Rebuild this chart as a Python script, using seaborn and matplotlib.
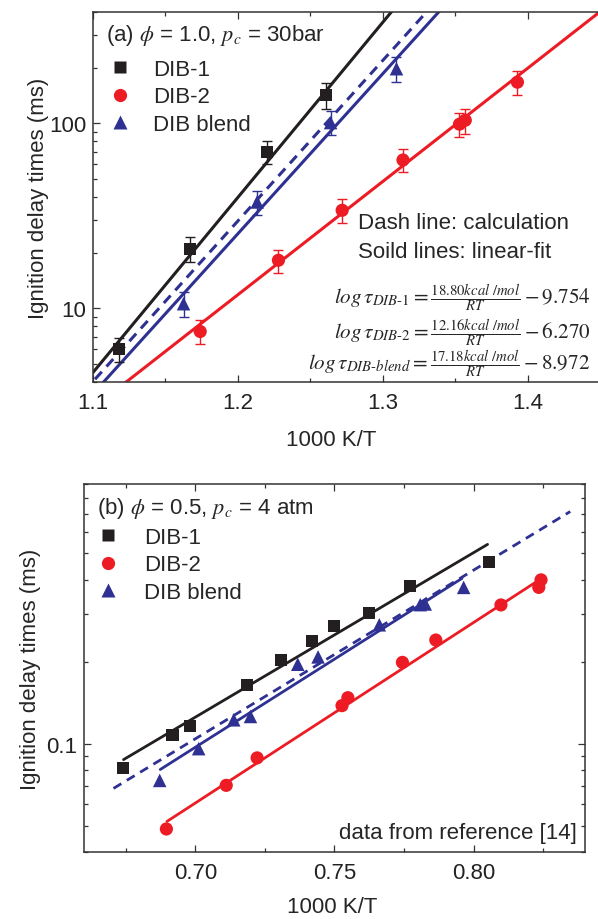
import numpy as np
import matplotlib
matplotlib.use('Agg')
import matplotlib.pyplot as plt
import seaborn as sns
from matplotlib.lines import Line2D
from matplotlib.ticker import MultipleLocator, FixedLocator, NullFormatter, FixedFormatter, LogLocator, FormatStrFormatter

sns.set_theme(style='ticks')
plt.rcParams['font.family'] = ['Liberation Sans', 'DejaVu Sans']
plt.rcParams['mathtext.fontset'] = 'stix'

# ---------------- panel (a): phi = 1.0, pc = 30 bar ----------------
a_dib1_x = [1.118, 1.167, 1.220, 1.261]
a_dib1_y = [6.0, 21.0, 70.3, 142.3]
a_dib1_err = [0.9, 3.2, 10.1, 22.0]
a_dib2_x = [1.174, 1.228, 1.272, 1.314, 1.353, 1.357, 1.393]
a_dib2_y = [7.5, 18.2, 33.9, 63.4, 99.0, 104.0, 167.0]
a_dib2_err = [1.1, 2.6, 5.0, 9.0, 15.0, 16.0, 25.0]
a_blend_x = [1.1625, 1.2133, 1.264, 1.3095]
a_blend_y = [10.6, 37.6, 101.0, 197.5]
a_blend_err = [1.6, 5.6, 15.0, 31.0]
# linear-fit parameters printed on the chart (log tau = E/RT - b)
fit_E = [18.80, 12.16, 17.18]      # kcal/mol
fit_b = [9.754, 6.270, 8.972]
R_CAL = 1.987
a_fit_xrange = [1.09, 1.46]
# calculation (dashed)
a_calc_x = [1.1014, 1.3298]
a_calc_y = [4.14, 396.5]

# ---------------- panel (b): phi = 0.5, pc = 4 atm ----------------
b_dib1_x = [0.674, 0.6918, 0.698, 0.7184, 0.7309, 0.7418, 0.7498, 0.7623, 0.7773, 0.8054]
b_dib1_y = [0.0811, 0.1076, 0.1157, 0.1637, 0.2032, 0.239, 0.271, 0.3017, 0.380, 0.4654]
b_dib2_x = [0.6896, 0.7111, 0.7222, 0.7527, 0.7548, 0.7744, 0.7864, 0.8098, 0.8234, 0.8242]
b_dib2_y = [0.0486, 0.0703, 0.0887, 0.138, 0.1476, 0.199, 0.2404, 0.3235, 0.3753, 0.400]
b_blend_x = [0.6872, 0.7012, 0.7138, 0.7198, 0.7368, 0.7441, 0.7661, 0.7808, 0.7826, 0.7964]
b_blend_y = [0.0733, 0.0959, 0.1224, 0.1259, 0.1959, 0.2084, 0.2735, 0.3243, 0.3262, 0.3753]
b_fit1_x = [0.6742, 0.805]
b_fit1_y = [0.0874, 0.540]
b_fit2_x = [0.6898, 0.824]
b_fit2_y = [0.0518, 0.4025]
b_fit3_x = [0.6874, 0.7958]
b_fit3_y = [0.0804, 0.405]
b_calc_x = [0.6706, 0.8347]
b_calc_y = [0.0685, 0.713]

labels = ['DIB-1', 'DIB-2', 'DIB blend']
BLACK = '#231f20'
RED = '#ed1c24'
BLUE = '#2e3192'
FS = 16

fig = plt.figure(figsize=(5.98, 9.2), dpi=100)
W, H = 598.0, 920.0
ax1 = fig.add_axes([93 / W, 1 - 383 / H, 507 / W, 370 / H])
ax2 = fig.add_axes([84 / W, 1 - 853 / H, 501 / W, 368 / H])


def style_axis(ax, right=True):
    ax.set_yscale('log')
    for s in ax.spines.values():
        s.set_visible(True)
        s.set_linewidth(1.1)
        s.set_color('#333333')
    ax.tick_params(which='both', direction='in', top=True, right=right,
                   colors='#333333', labelcolor='#222222', labelsize=FS)
    ax.tick_params(which='major', length=5, width=0.9)
    ax.tick_params(which='minor', length=3, width=0.9)
    ax.tick_params(axis='y', which='both', pad=5)
    ax.tick_params(axis='x', which='both', pad=7)
    ax.grid(False)


style_axis(ax1, right=False)
style_axis(ax2)

# ---- panel a ----
fx = np.array(a_fit_xrange)
for E, b, c in zip(fit_E, fit_b, [BLACK, RED, BLUE]):
    sns.lineplot(x=fx, y=10 ** (E / R_CAL * fx - b), ax=ax1, color=c, linewidth=2.2,
                 errorbar=None, zorder=2)
sns.lineplot(x=a_calc_x, y=a_calc_y, ax=ax1, color=BLUE, linewidth=2.2,
             linestyle=(0, (3.3, 2.3)), errorbar=None, zorder=2)

for xs, ys, es, c, m, s in [(a_dib1_x, a_dib1_y, a_dib1_err, BLACK, 's', 75),
                            (a_dib2_x, a_dib2_y, a_dib2_err, RED, 'o', 90),
                            (a_blend_x, a_blend_y, a_blend_err, BLUE, '^', 95)]:
    ax1.errorbar(xs, ys, yerr=es, fmt='none', ecolor=c, elinewidth=1.0,
                 capsize=3.3, capthick=1.0, zorder=3)
    sns.scatterplot(x=xs, y=ys, ax=ax1, marker=m, s=s, color=c, edgecolor='none',
                    linewidth=0, zorder=4, legend=False)

ax1.set_xlim(1.1, 1.45)
ax1.set_ylim(4, 400)
ax1.xaxis.set_major_locator(MultipleLocator(0.1))
ax1.xaxis.set_minor_locator(MultipleLocator(0.05))
ax1.xaxis.set_major_formatter(FormatStrFormatter('%.1f'))
ax1.yaxis.set_major_locator(FixedLocator([10, 100]))
ax1.yaxis.set_major_formatter(FixedFormatter(['10', '100']))
ax1.yaxis.set_minor_locator(LogLocator(base=10, subs=np.arange(2, 10)))
ax1.yaxis.set_minor_formatter(NullFormatter())
ax1.set_xlabel('1000 K/T', fontsize=FS)
ax1.set_ylabel('Ignition delay times (ms)', fontsize=FS)
ax1.xaxis.set_label_coords(0.469, -0.126)
ax1.yaxis.set_label_coords(-0.087, 0.5)

ax1.text(0.0257, 0.925, r'(a) $\phi$ = 1.0, $p_c$ = 30bar', transform=ax1.transAxes,
         fontsize=FS, ha='left', va='baseline')
handles = [Line2D([0], [0], marker='s', color=BLACK, ls='none', ms=8.6, mec='none'),
           Line2D([0], [0], marker='o', color=RED, ls='none', ms=9.5, mec='none'),
           Line2D([0], [0], marker='^', color=BLUE, ls='none', ms=9.5, mec='none')]
ax1.legend(handles, labels, loc='upper left', bbox_to_anchor=(0.0316, 0.874), frameon=False,
           fontsize=FS, handlelength=1.0, handletextpad=1.0, labelspacing=0.3,
           borderpad=0, borderaxespad=0)

ax1.text(0.522, 0.432, 'Dash line: calculation', transform=ax1.transAxes, fontsize=FS,
         ha='left', va='center')
ax1.text(0.522, 0.354, 'Soild lines: linear-fit', transform=ax1.transAxes, fontsize=FS,
         ha='left', va='center')
eqs = [r'$log\,\tau_{DIB\text{-}1} = \frac{18.80kcal\ /mol}{RT} - 9.754$',
       r'$log\,\tau_{DIB\text{-}2} = \frac{12.16kcal\ /mol}{RT} - 6.270$',
       r'$log\,\tau_{DIB\text{-}blend} = \frac{17.18kcal\ /mol}{RT} - 8.972$']
for eq, yy in zip(eqs, [0.228, 0.136, 0.051]):
    ax1.text(0.981, yy, eq, transform=ax1.transAxes, fontsize=15.2, ha='right', va='center')

# ---- panel b ----
for xs, ys, c in [(b_fit1_x, b_fit1_y, BLACK), (b_fit2_x, b_fit2_y, RED), (b_fit3_x, b_fit3_y, BLUE)]:
    sns.lineplot(x=xs, y=ys, ax=ax2, color=c, linewidth=2.0, errorbar=None, zorder=2)
sns.lineplot(x=b_calc_x, y=b_calc_y, ax=ax2, color=BLUE, linewidth=2.0,
             linestyle=(0, (3.3, 2.3)), errorbar=None, zorder=2)
for xs, ys, c, m, s in [(b_dib1_x, b_dib1_y, BLACK, 's', 75),
                        (b_dib2_x, b_dib2_y, RED, 'o', 90),
                        (b_blend_x, b_blend_y, BLUE, '^', 95)]:
    sns.scatterplot(x=xs, y=ys, ax=ax2, marker=m, s=s, color=c, edgecolor='none',
                    linewidth=0, zorder=4, legend=False)

ax2.set_xlim(0.66, 0.84)
ax2.set_ylim(0.04, 0.9)
ax2.xaxis.set_major_locator(MultipleLocator(0.05))
ax2.xaxis.set_minor_locator(MultipleLocator(0.025))
ax2.xaxis.set_major_formatter(FormatStrFormatter('%.2f'))
ax2.yaxis.set_major_locator(FixedLocator([0.1]))
ax2.yaxis.set_major_formatter(FixedFormatter(['0.1']))
ax2.yaxis.set_minor_locator(LogLocator(base=10, subs=np.arange(2, 10)))
ax2.yaxis.set_minor_formatter(NullFormatter())
ax2.set_xlabel('1000 K/T', fontsize=FS)
ax2.set_ylabel('Ignition delay times (ms)', fontsize=FS)
ax2.xaxis.set_label_coords(0.495, -0.12)
ax2.yaxis.set_label_coords(-0.086, 0.5)

ax2.text(0.026, 0.922, r'(b) $\phi$ = 0.5, $p_c$ = 4 atm', transform=ax2.transAxes,
         fontsize=FS, ha='left', va='baseline')
ax2.legend(handles, labels, loc='upper left', bbox_to_anchor=(0.026, 0.884), frameon=False,
           fontsize=FS, handlelength=1.0, handletextpad=1.1, labelspacing=0.3,
           borderpad=0, borderaxespad=0)
ax2.text(0.984, 0.054, 'data from reference [14]', transform=ax2.transAxes, fontsize=FS,
         ha='right', va='center')

fig.savefig('out.png', dpi=100, facecolor='white')
